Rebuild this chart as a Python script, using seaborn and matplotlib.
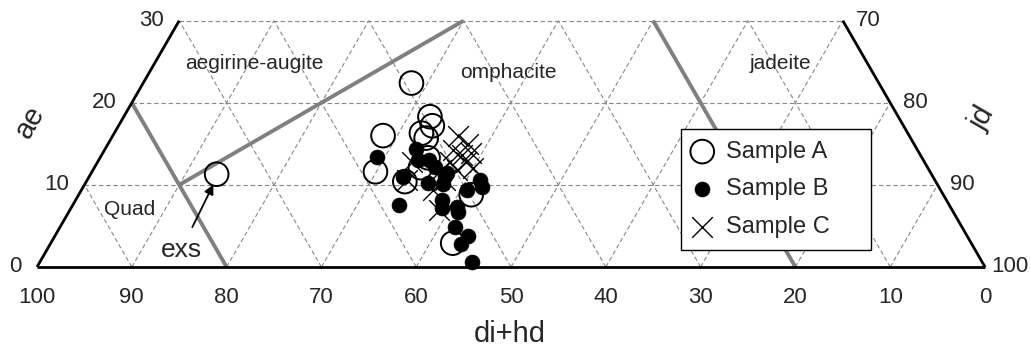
import numpy as np
import pandas as pd
import matplotlib
matplotlib.use('Agg')
import matplotlib.pyplot as plt
import seaborn as sns

sns.set_style('white')
plt.rcParams['font.family'] = ['Liberation Sans', 'DejaVu Sans']

# compositions (mol%), di+hd = 100 - jd - ae
a_jd = [28.3, 28.5, 32.3, 33.1, 32.4, 33.2, 29.9, 33.6, 34.4, 34.6, 41.4, 42.4, 13.3]
a_ae = [22.4, 16.0, 18.3, 17.2, 16.3, 15.7, 11.6, 10.4, 12.1, 13.3, 8.8, 2.9, 11.3]

b_jd = [29.2, 32.8, 33.7, 34.9, 35.9, 33.1, 36.1, 37.5, 37.8, 34.4, 38.6, 39.1,
        40.7, 41.1, 40.7, 41.4, 42.1, 41.6, 43.6, 43.3, 45.6, 37.5]
b_ae = [13.4, 14.4, 13.0, 13.0, 12.2, 11.0, 10.2, 11.1, 10.1, 7.6, 8.2, 7.2,
        7.3, 6.7, 9.4, 10.6, 9.7, 4.9, 3.8, 2.8, 0.6, 11.5]

c_jd = [36.4, 38.0, 36.7, 38.0, 38.8, 37.2, 38.8, 38.4, 39.9, 36.7, 33.2, 37.1,
        39.0, 33.7, 37.7]
c_ae = [16.0, 15.0, 14.3, 13.6, 13.9, 12.8, 12.8, 11.8, 12.1, 11.8, 12.8, 9.4,
        6.9, 10.6, 10.6]

ticks = [0, 10, 20, 30, 40, 50, 60, 70, 80, 90, 100]
ae_ticks = [0, 10, 20, 30]
jd_ticks = [70, 80, 90, 100]

H = np.sqrt(3) / 2
AE_MAX = 30


def xy(jd, ae):
    jd = np.asarray(jd, dtype=float)
    ae = np.asarray(ae, dtype=float)
    return jd + ae / 2, ae * H


frames = []
for name, jd, ae in [('Sample A', a_jd, a_ae), ('Sample B', b_jd, b_ae), ('Sample C', c_jd, c_ae)]:
    x, y = xy(jd, ae)
    frames.append(pd.DataFrame({'x': x, 'y': y, 'sample': name}))
df = pd.concat(frames, ignore_index=True)

fig = plt.figure(figsize=(10.31, 3.48), dpi=100)
ax = fig.add_axes([0, 0, 1, 1])
ax.set_xlim(-3.903, 104.85)
ax.set_ylim(-8.544, 28.16)
ax.axis('off')

# dashed grid
gk = dict(color='#888888', lw=0.8, ls=(0, (4, 2.5)), zorder=1)
for a in [10, 20, 30]:
    x0, y0 = xy(0, a)
    x1, y1 = xy(100 - a, a)
    ax.plot([x0, x1], [y0, y1], **gk)
for v in range(10, 100, 10):
    # constant jd
    ae_top = min(AE_MAX, 100 - v)
    x0, y0 = xy(v, 0)
    x1, y1 = xy(v, ae_top)
    ax.plot([x0, x1], [y0, y1], **gk)
    # constant di+hd
    d = v
    ae_top = min(AE_MAX, 100 - d)
    x0, y0 = xy(100 - d, 0)
    x1, y1 = xy(100 - d - ae_top, ae_top)
    ax.plot([x0, x1], [y0, y1], **gk)

# frame
fk = dict(color='black', lw=2, zorder=3, solid_capstyle='butt')
x0, y0 = xy(0, 0)
x1, y1 = xy(100, 0)
ax.plot([x0, x1], [y0, y1], **fk)
x1, y1 = xy(0, AE_MAX)
ax.plot([x0, x1], [y0, y1], **fk)
x0, y0 = xy(100, 0)
x1, y1 = xy(100 - AE_MAX, AE_MAX)
ax.plot([x0, x1], [y0, y1], **fk)

# field boundaries
bk = dict(color='#808080', lw=2.8, zorder=2, solid_capstyle='butt')
px, py = xy([0, 20], [20, 0])
ax.plot(px, py, **bk)
px, py = xy([10, 30], [10, 30])
ax.plot(px, py, **bk)
px, py = xy([50, 80], [30, 0])
ax.plot(px, py, **bk)

# data
sns.scatterplot(data=df[df['sample'] == 'Sample A'], x='x', y='y', ax=ax, marker='o',
                s=290, facecolor='none', edgecolor='black', linewidth=1.4,
                label='Sample A', zorder=4)
sns.scatterplot(data=df[df['sample'] == 'Sample B'], x='x', y='y', ax=ax, marker='o',
                s=115, color='black', edgecolor='black', linewidth=0.5,
                label='Sample B', zorder=5)
sns.scatterplot(data=df[df['sample'] == 'Sample C'], x='x', y='y', ax=ax, marker='x',
                s=220, color='black', linewidth=1.0,
                label='Sample C', zorder=4)

# tick labels
tf = 16
for t in ticks:
    ax.text(100 - t, -3.27, str(t), ha='center', va='center', fontsize=tf)
for a in ae_ticks:
    x, y = xy(0, a)
    ax.text(x - 1.6, y, str(a), ha='right', va='center', fontsize=tf)
for j in jd_ticks:
    x, y = xy(j, 100 - j)
    ax.text(x + 2.65, y, str(j), ha='center', va='center', fontsize=tf)

ax.text(-0.74, 15.3, 'ae', rotation=60, ha='center', va='center', fontsize=21)
ax.text(99.7, 15.7, 'jd', rotation=60, ha='center', va='center', fontsize=21)
ax.text(49.9, -8.52, 'di+hd', ha='center', va='bottom', fontsize=21)

# field names
ax.text(22.9, 21.5, 'aegirine-augite', ha='center', va='center', fontsize=15)
ax.text(49.7, 20.5, 'omphacite', ha='center', va='center', fontsize=15)
ax.text(78.4, 21.5, 'jadeite', ha='center', va='center', fontsize=15)
ax.text(9.8, 6.1, 'Quad', ha='center', va='center', fontsize=15)

ax.annotate('exs', xy=(18.6, 8.7), xytext=(15.2, 1.8), fontsize=19,
            ha='center', va='center',
            arrowprops=dict(arrowstyle='-|>', color='black', lw=1.3,
                            mutation_scale=14, shrinkA=6, shrinkB=0))

leg = ax.legend(loc='upper left',
                bbox_to_anchor=(681 / 1031, 1 - 243 / 348, 190 / 1031, 114 / 348),
                bbox_transform=fig.transFigure, mode='expand', borderaxespad=0,
                fontsize=17, frameon=True, fancybox=False, edgecolor='black',
                framealpha=1, handletextpad=0.6, labelspacing=0.66, borderpad=0.5,
                handlelength=0.8)
leg.get_frame().set_linewidth(1.0)

fig.savefig('out.png', dpi=100)
